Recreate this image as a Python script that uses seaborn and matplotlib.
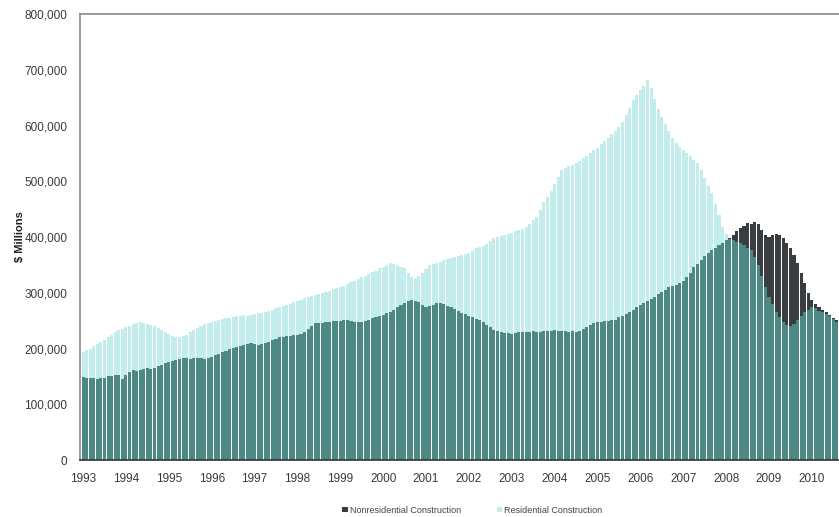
import numpy as np
import pandas as pd
import matplotlib
matplotlib.use("Agg")
import matplotlib.pyplot as plt
import seaborn as sns

# Monthly values, $ thousands of millions (x1000 -> $ Millions), Jan 1993 .. Aug 2010
years = [str(y) for y in range(1993, 2011)]

nonresidential = [
    149, 148, 147, 147, 146, 147, 148, 150, 151, 152, 153, 146,   # 1993
    152, 158, 161, 160, 162, 164, 165, 164, 166, 168, 171, 174,   # 1994
    176, 178, 180, 181, 183, 184, 182, 183, 184, 183, 182, 183,   # 1995
    185, 188, 190, 193, 196, 199, 201, 203, 205, 207, 209, 210,   # 1996
    208, 207, 209, 210, 212, 215, 218, 220, 221, 222, 223, 224,   # 1997
    224, 226, 230, 236, 240, 246, 245, 246, 247, 248, 249, 250,   # 1998
    249, 251, 252, 250, 248, 247, 248, 250, 252, 254, 256, 258,   # 1999
    260, 263, 266, 270, 274, 278, 282, 285, 287, 286, 283, 279,   # 2000
    274, 276, 279, 281, 282, 280, 277, 274, 271, 268, 264, 262,   # 2001
    259, 256, 253, 251, 247, 243, 238, 233, 231, 229, 228, 228,   # 2002
    227, 228, 229, 230, 229, 230, 231, 230, 229, 231, 232, 232,   # 2003
    233, 232, 231, 232, 230, 231, 230, 232, 235, 238, 242, 246,   # 2004
    247, 248, 249, 250, 251, 252, 256, 259, 262, 266, 270, 274,   # 2005
    278, 281, 285, 289, 293, 297, 301, 305, 310, 312, 314, 317,   # 2006
    322, 328, 336, 346, 352, 358, 366, 372, 377, 381, 386, 390,   # 2007
    395, 398, 403, 410, 416, 420, 426, 423, 427, 424, 412, 404,   # 2008
    400, 404, 406, 404, 398, 390, 380, 368, 353, 335, 318, 300,   # 2009
    288, 280, 274, 269, 265, 260, 255, 251,                       # 2010
]

residential = [
    194, 197, 200, 204, 208, 212, 216, 221, 225, 229, 233, 236,   # 1993
    238, 241, 244, 246, 247, 246, 244, 242, 240, 237, 234, 230,   # 1994
    226, 223, 221, 220, 222, 225, 229, 233, 237, 241, 244, 246,   # 1995
    248, 250, 252, 253, 254, 255, 256, 258, 259, 260, 259, 260,   # 1996
    262, 263, 264, 265, 267, 269, 272, 274, 276, 278, 280, 283,   # 1997
    285, 287, 290, 292, 294, 296, 298, 300, 302, 304, 306, 308,   # 1998
    310, 313, 316, 319, 322, 325, 328, 331, 334, 337, 340, 344,   # 1999
    346, 350, 353, 352, 349, 346, 344, 336, 328, 326, 330, 336,   # 2000
    342, 350, 352, 354, 356, 358, 360, 362, 364, 366, 368, 370,   # 2001
    372, 375, 380, 382, 384, 388, 393, 398, 400, 402, 404, 406,   # 2002
    408, 410, 412, 414, 418, 424, 430, 436, 448, 462, 472, 482,   # 2003
    495, 508, 520, 524, 527, 530, 533, 537, 541, 545, 550, 556,   # 2004
    560, 566, 572, 578, 584, 590, 597, 607, 618, 632, 646, 655,   # 2005
    664, 671, 682, 668, 648, 630, 615, 602, 590, 578, 569, 562,   # 2006
    556, 550, 545, 539, 533, 520, 505, 492, 479, 460, 440, 418,   # 2007
    405, 397, 394, 392, 389, 385, 381, 377, 365, 350, 330, 310,   # 2008
    292, 280, 266, 256, 248, 242, 240, 244, 251, 258, 265, 270,   # 2009
    275, 272, 268, 266, 262, 258, 253, 248,                       # 2010
]

y_ticks = [0, 100000, 200000, 300000, 400000, 500000, 600000, 700000, 800000]

sns.set_style("white")
plt.rcParams["font.family"] = ["Liberation Sans", "DejaVu Sans"]

n = len(nonresidential)
df = pd.DataFrame({
    "month": np.arange(n),
    "nonres": np.array(nonresidential) * 1000,
    "res": np.array(residential) * 1000,
})
df["both"] = np.minimum(df["nonres"], df["res"])

C_RES = "#c3ecec"
C_NON = "#3a3d40"
C_BOTH = "#4c8884"

fig = plt.figure(figsize=(8.39, 5.17), dpi=100)
ax = fig.add_axes([0.0954, 0.110, 0.9046, 0.863])

common = dict(saturation=1, width=0.86, linewidth=0, ax=ax)
sns.barplot(data=df, x="month", y="res", color=C_RES, zorder=1, **common)
sns.barplot(data=df, x="month", y="nonres", color=C_NON, zorder=2, **common)
sns.barplot(data=df, x="month", y="both", color=C_BOTH, zorder=3, **common)

ax.set_xlim(-0.85, 211.6)
ax.set_ylim(0, 800000)
ax.set_yticks(y_ticks)
ax.set_yticklabels([f"{v:,}" for v in y_ticks], fontsize=8.5, color="#3a3a3a")
ax.set_xticks(np.arange(0, n, 12))
ax.set_xticklabels(years, fontsize=8.5, color="#3a3a3a")
ax.tick_params(axis="x", length=0, pad=9)
ax.tick_params(axis="y", length=3, width=0.8, color="#888888", pad=6)
ax.set_xlabel("")
ax.set_ylabel("$ Millions", fontsize=8, fontweight="bold", color="#222222", labelpad=0)

for side in ["top", "left"]:
    ax.spines[side].set_color("#8a8a8a")
    ax.spines[side].set_linewidth(1.2)
ax.spines["bottom"].set_color("#333333")
ax.spines["bottom"].set_linewidth(1.2)
ax.spines["right"].set_visible(False)
ax.spines["bottom"].set_zorder(5)

handles = [ax.containers[1], ax.containers[0]]
fig.legend(handles=handles, labels=["Nonresidential Construction", "Residential Construction"],
           loc="center", bbox_to_anchor=(0.563, 0.013), ncol=2, frameon=False,
           fontsize=6.5, handlelength=0.6, handleheight=0.6, handletextpad=0.2,
           columnspacing=4, labelcolor="#444444")

fig.savefig("out.png", dpi=100)
